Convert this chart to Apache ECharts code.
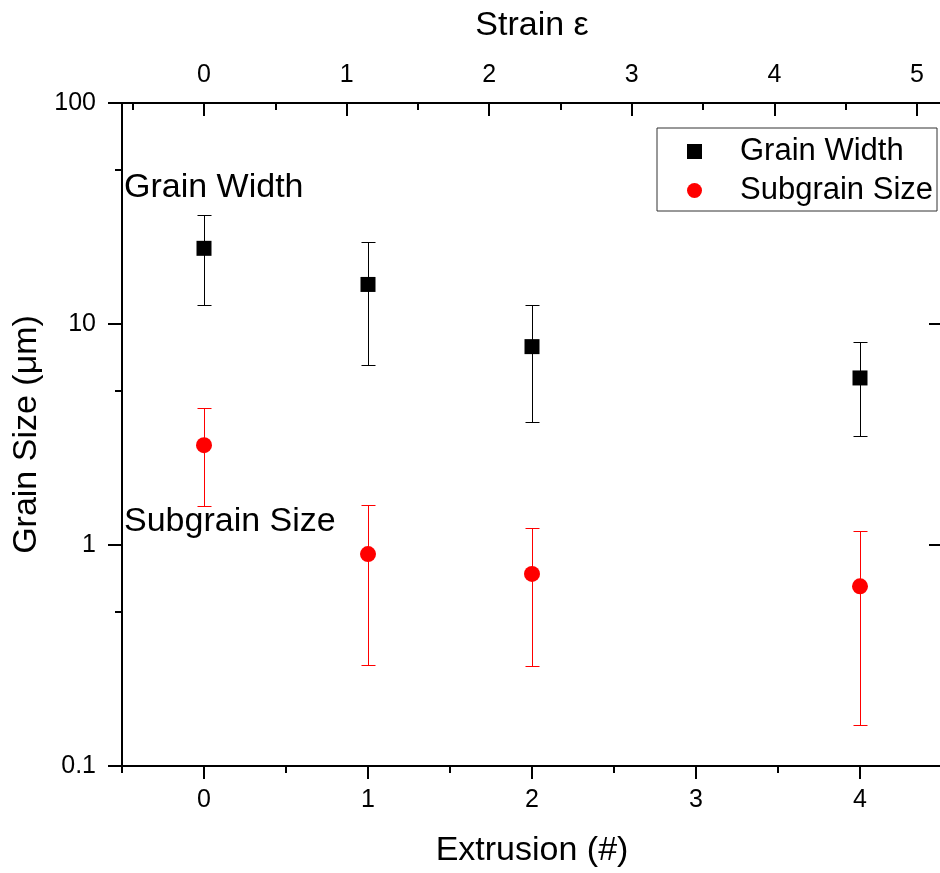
<!DOCTYPE html>
<html>
<head>
<meta charset="utf-8">
<title>Grain Size vs Extrusion</title>
<script src="https://cdn.jsdelivr.net/npm/echarts@6/dist/echarts.min.js"></script>
<style>
  html, body { margin: 0; padding: 0; background: #fff; }
  #chart { width: 940px; height: 873px; }
</style>
</head>
<body>
<div id="chart"></div>
<script>
// Extrusion passes and measured sizes (µm)
const extrusion = [0, 1, 2, 4];
const grainWidth = [22.0, 15.1, 7.9, 5.7];
const grainWidthLow = [12.2, 6.5, 3.6, 3.1];
const grainWidthHigh = [31.2, 23.5, 12.2, 8.3];
const subgrainSize = [2.83, 0.91, 0.74, 0.65];
const subgrainLow = [1.50, 0.287, 0.284, 0.153];
const subgrainHigh = [4.16, 1.52, 1.19, 1.16];

// Axis ticks
const extrusionTicks = [0, 1, 2, 3, 4];
const extrusionMinor = [-0.5, 0.5, 1.5, 2.5, 3.5, 4.5];
const strainTicks = [0, 1, 2, 3, 4, 5];
const strainMinor = [-0.5, 0.5, 1.5, 2.5, 3.5, 4.5];
const sizeTicks = [0.1, 1, 10, 100];
const sizeMinor = [0.5, 5, 50];

// Strain accumulated per extrusion pass
const strainPerPass = 1.15;
const extrusionRange = [-0.5, 4.5];

const FONT = '"Liberation Sans", Arial, sans-serif';

const pair = (xs, ys) => xs.map((x, i) => [x, ys[i]]);
const triple = (xs, lo, hi) => xs.map((x, i) => [x, lo[i], hi[i]]);

function errorBar(color) {
  return function (params, api) {
    const x = api.value(0);
    const pLo = api.coord([x, api.value(1)]);
    const pHi = api.coord([x, api.value(2)]);
    const cx = Math.round(pLo[0]) + 0.5;
    const yLo = Math.round(pLo[1]) + 0.5;
    const yHi = Math.round(pHi[1]) + 0.5;
    const w = 7;
    const st = { stroke: color, lineWidth: 1 };
    return {
      type: 'group',
      children: [
        { type: 'line', shape: { x1: cx, y1: yLo, x2: cx, y2: yHi }, style: st },
        { type: 'line', shape: { x1: cx - w, y1: yLo, x2: cx + w, y2: yLo }, style: st },
        { type: 'line', shape: { x1: cx - w, y1: yHi, x2: cx + w, y2: yHi }, style: st }
      ]
    };
  };
}

const lineStyle = { color: '#000', width: 2 };
const labelStyle = { color: '#000', fontSize: 25, fontFamily: FONT };
const nameStyle = { color: '#000', fontSize: 34, fontFamily: FONT };

const chart = echarts.init(document.getElementById('chart'), null, { renderer: 'canvas' });

chart.setOption({
  animation: false,
  backgroundColor: '#fff',
  grid: { left: 122, top: 103, right: -2, bottom: 107, outerBoundsMode: 'none' },
  legend: {
    left: 657,
    top: 128,
    orient: 'vertical',
    data: [
      { name: 'Grain Width', icon: 'rect' },
      { name: 'Subgrain Size', icon: 'circle' }
    ],
    itemWidth: 15,
    itemHeight: 15,
    itemGap: 8,
    padding: [8, 4, 5, 30],
    borderColor: '#333',
    borderWidth: 1,
    borderRadius: 0,
    textStyle: { color: '#000', fontSize: 31, fontFamily: FONT, padding: [0, 0, 0, 33] },
    selectedMode: false
  },
  xAxis: [
    {
      type: 'value', position: 'bottom', min: extrusionRange[0], max: extrusionRange[1],
      name: 'Extrusion (#)', nameLocation: 'middle', nameGap: 68, nameTextStyle: nameStyle,
      axisLine: { onZero: false, lineStyle },
      axisTick: { customValues: extrusionTicks, length: 13, lineStyle },
      axisLabel: { customValues: extrusionTicks, margin: 22, ...labelStyle },
      splitLine: { show: false }
    },
    {
      type: 'value', position: 'bottom', min: extrusionRange[0], max: extrusionRange[1],
      axisLine: { show: false, onZero: false },
      axisTick: { customValues: extrusionMinor, length: 7, lineStyle },
      axisLabel: { show: false },
      splitLine: { show: false }
    },
    {
      type: 'value', position: 'top',
      min: extrusionRange[0] * strainPerPass, max: extrusionRange[1] * strainPerPass,
      name: 'Strain ε', nameLocation: 'middle', nameGap: 60, nameTextStyle: nameStyle,
      axisLine: { onZero: false, lineStyle },
      axisTick: { customValues: strainTicks, inside: true, length: 13, lineStyle },
      axisLabel: { customValues: strainTicks, margin: 15, ...labelStyle },
      splitLine: { show: false }
    },
    {
      type: 'value', position: 'top',
      min: extrusionRange[0] * strainPerPass, max: extrusionRange[1] * strainPerPass,
      axisLine: { show: false, onZero: false },
      axisTick: { customValues: strainMinor, inside: true, length: 7, lineStyle },
      axisLabel: { show: false },
      splitLine: { show: false }
    }
  ],
  yAxis: [
    {
      type: 'log', logBase: 10, position: 'left', min: 0.1, max: 100,
      name: 'Grain Size (μm)', nameLocation: 'middle', nameGap: 76, nameTextStyle: nameStyle,
      axisLine: { onZero: false, lineStyle },
      axisTick: { customValues: sizeTicks, length: 14, lineStyle },
      axisLabel: { customValues: sizeTicks, margin: 26, ...labelStyle, formatter: v => String(v) },
      splitLine: { show: false },
      minorTick: { show: false }
    },
    {
      type: 'log', logBase: 10, position: 'left', min: 0.1, max: 100,
      axisLine: { show: false, onZero: false },
      axisTick: { customValues: sizeMinor, length: 7, lineStyle },
      axisLabel: { show: false },
      splitLine: { show: false }
    },
    {
      type: 'log', logBase: 10, position: 'right', min: 0.1, max: 100,
      axisLine: { onZero: false, lineStyle },
      axisTick: { customValues: sizeTicks, inside: true, length: 13, lineStyle },
      axisLabel: { show: false },
      splitLine: { show: false }
    }
  ],
  graphic: [
    {
      type: 'text', left: 124, top: 171, silent: true,
      style: { text: 'Grain Width', fill: '#000', fontSize: 34, fontFamily: FONT }
    },
    {
      type: 'text', left: 124, top: 505, silent: true,
      style: { text: 'Subgrain Size', fill: '#000', fontSize: 34, fontFamily: FONT }
    }
  ],
  series: [
    {
      name: 'Grain Width error', type: 'custom', xAxisIndex: 0, yAxisIndex: 0,
      renderItem: errorBar('#000'),
      encode: { x: 0, y: [1, 2] },
      data: triple(extrusion, grainWidthLow, grainWidthHigh),
      z: 1
    },
    {
      name: 'Subgrain Size error', type: 'custom', xAxisIndex: 0, yAxisIndex: 0,
      renderItem: errorBar('#ff0000'),
      encode: { x: 0, y: [1, 2] },
      data: triple(extrusion, subgrainLow, subgrainHigh),
      z: 1
    },
    {
      name: 'Grain Width', type: 'scatter', xAxisIndex: 0, yAxisIndex: 0,
      symbol: 'rect', symbolSize: 15,
      itemStyle: { color: '#000', opacity: 1 },
      data: pair(extrusion, grainWidth),
      z: 3
    },
    {
      name: 'Subgrain Size', type: 'scatter', xAxisIndex: 0, yAxisIndex: 0,
      symbol: 'circle', symbolSize: 16,
      itemStyle: { color: '#ff0000', opacity: 1 },
      data: pair(extrusion, subgrainSize),
      z: 3
    }
  ]
});
</script>
</body>
</html>
